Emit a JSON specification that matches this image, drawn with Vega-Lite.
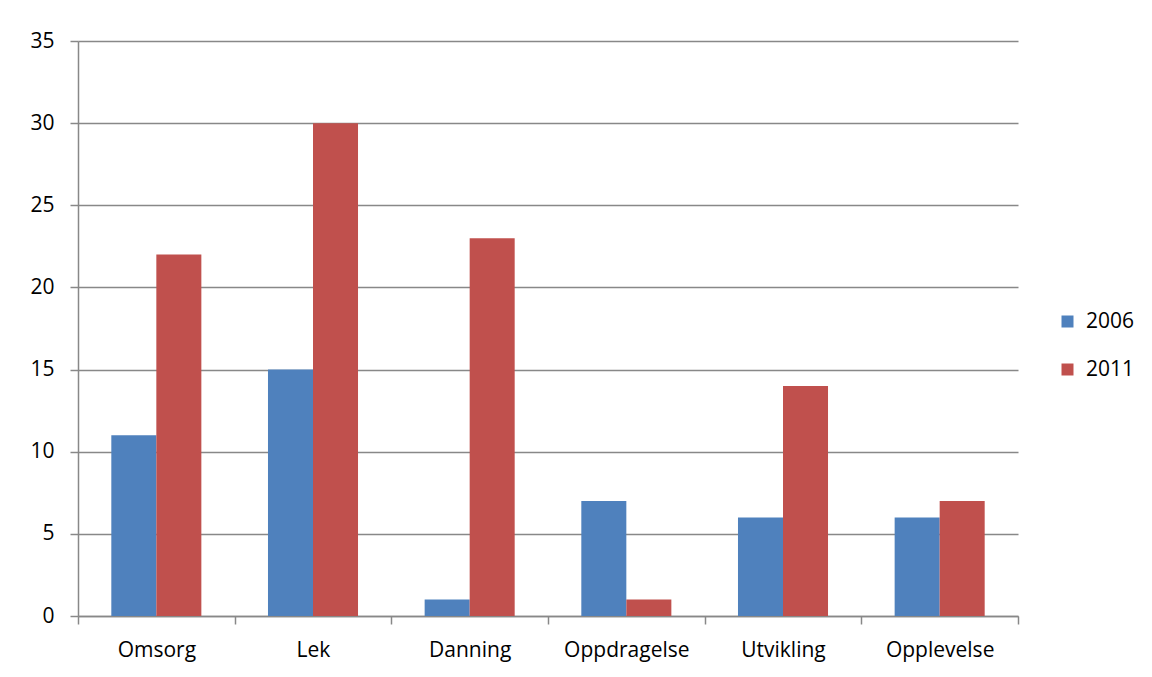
{
  "$schema": "https://vega.github.io/schema/vega-lite/v6.json",
  "width": 940,
  "height": 575,
  "autosize": {"type": "none"},
  "padding": {"left": 78, "top": 41, "right": 134, "bottom": 61},
  "background": "white",
  "config": {
    "view": {"stroke": null},
    "font": "Open Sans"
  },
  "data": {
    "values": [
      {"kategori": "Omsorg", "år": "2006", "verdi": 11},
      {"kategori": "Omsorg", "år": "2011", "verdi": 22},
      {"kategori": "Lek", "år": "2006", "verdi": 15},
      {"kategori": "Lek", "år": "2011", "verdi": 30},
      {"kategori": "Danning", "år": "2006", "verdi": 1},
      {"kategori": "Danning", "år": "2011", "verdi": 23},
      {"kategori": "Oppdragelse", "år": "2006", "verdi": 7},
      {"kategori": "Oppdragelse", "år": "2011", "verdi": 1},
      {"kategori": "Utvikling", "år": "2006", "verdi": 6},
      {"kategori": "Utvikling", "år": "2011", "verdi": 14},
      {"kategori": "Opplevelse", "år": "2006", "verdi": 6},
      {"kategori": "Opplevelse", "år": "2011", "verdi": 7}
    ]
  },
  "mark": {"type": "bar"},
  "encoding": {
    "x": {
      "field": "kategori",
      "type": "nominal",
      "sort": ["Omsorg", "Lek", "Danning", "Oppdragelse", "Utvikling", "Opplevelse"],
      "scale": {"paddingInner": 0, "paddingOuter": 0},
      "axis": {
        "title": null,
        "labelAngle": 0,
        "labelFontSize": 21,
        "labelColor": "#000000",
        "labelPadding": 15,
        "tickBand": "extent",
        "tickSize": 8,
        "tickColor": "#888888",
        "tickWidth": 1.5,
        "domainColor": "#888888",
        "domainWidth": 1.5,
        "grid": false
      }
    },
    "xOffset": {
      "field": "år",
      "type": "nominal",
      "scale": {"paddingInner": 0, "paddingOuter": 0.74}
    },
    "y": {
      "field": "verdi",
      "type": "quantitative",
      "scale": {"domain": [0, 35], "nice": false},
      "axis": {
        "title": null,
        "values": [0, 5, 10, 15, 20, 25, 30, 35],
        "labelFontSize": 21,
        "labelColor": "#000000",
        "labelPadding": 16,
        "tickSize": 8,
        "tickColor": "#888888",
        "tickWidth": 1.5,
        "domainColor": "#888888",
        "domainWidth": 1.5,
        "gridColor": "#888888",
        "gridWidth": 1.5
      }
    },
    "color": {
      "field": "år",
      "type": "nominal",
      "scale": {"domain": ["2006", "2011"], "range": ["#4F81BD", "#C0504D"]},
      "legend": {
        "title": null,
        "orient": "none",
        "legendX": 979,
        "legendY": 270,
        "symbolType": "square",
        "symbolSize": 144,
        "symbolStrokeWidth": 0,
        "labelFontSize": 21,
        "labelColor": "#000000",
        "labelOffset": 8,
        "rowPadding": 26
      }
    }
  }
}
